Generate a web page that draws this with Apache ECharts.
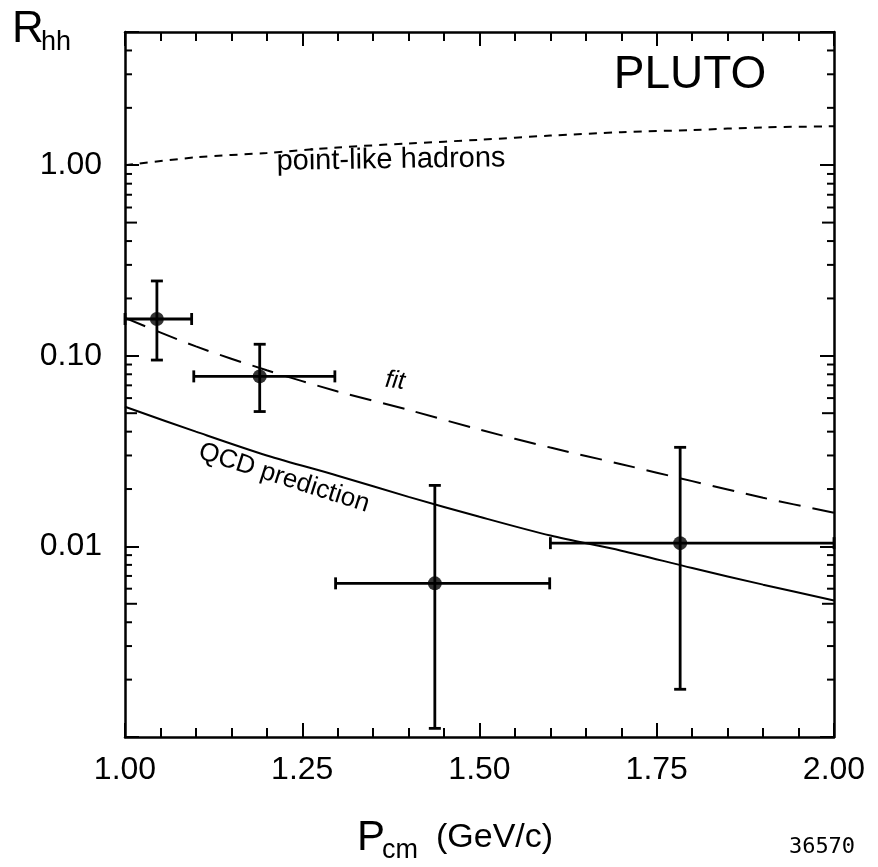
<!DOCTYPE html>
<html>
<head>
<meta charset="utf-8">
<script src="https://cdn.jsdelivr.net/npm/echarts@6/dist/echarts.min.js"></script>
<style>
html, body { margin: 0; padding: 0; background: #fff; }
#chart { width: 878px; height: 867px; }
</style>
</head>
<body>
<div id="chart"></div>
<script>
// curves, sampled along P_cm
var curveX = [1.0, 1.1, 1.2, 1.3, 1.4, 1.5, 1.6, 1.7, 1.8, 1.9, 2.0];
var pointLike = [1.00, 1.10, 1.16, 1.24, 1.30, 1.36, 1.43, 1.49, 1.53, 1.58, 1.60];
var fitCurve = [0.158, 0.112, 0.084, 0.065, 0.052, 0.041, 0.033, 0.027, 0.022, 0.018, 0.015];
var qcdCurve = [0.054, 0.040, 0.030, 0.0235, 0.0182, 0.0143, 0.0114, 0.0095, 0.0077, 0.0063, 0.0052];

// measured points
var ptX = [1.045, 1.19, 1.437, 1.783];
var ptY = [0.156, 0.078, 0.0064, 0.0104];
var ptXLow = [1.0, 1.097, 1.297, 1.60];
var ptXHigh = [1.094, 1.296, 1.599, 2.0];
var ptYLow = [0.095, 0.051, 0.00111, 0.00178];
var ptYHigh = [0.247, 0.115, 0.0209, 0.0331];

// axis labels
var yLabelValues = [1, 0.1, 0.01];
var yLabelTexts = ['1.00', '0.10', '0.01'];
var logMinorTicks = [0.002, 0.003, 0.004, 0.005, 0.006, 0.007, 0.008, 0.009,
	0.02, 0.03, 0.04, 0.05, 0.06, 0.07, 0.08, 0.09,
	0.2, 0.3, 0.4, 0.5, 0.6, 0.7, 0.8, 0.9,
	2, 3, 4];

var FONT = 'Liberation Sans';
var black = '#000';

function pair(xs, ys) {
	return xs.map(function (x, i) { return [x, ys[i]]; });
}

function yLabel(v) {
	for (var i = 0; i < yLabelValues.length; i++) {
		if (Math.abs(Math.log10(v) - Math.log10(yLabelValues[i])) < 1e-6) return yLabelTexts[i];
	}
	return '';
}

function renderTick(params, api) {
	var v = api.value(1);
	var l = api.coord([1, v]);
	var r = api.coord([2, v]);
	var lead = Math.round(v / Math.pow(10, Math.floor(Math.log10(v) + 1e-9)));
	var len = lead === 5 ? 12 : 7;
	var st = { stroke: black, lineWidth: 2 };
	return {
		type: 'group',
		children: [
			{ type: 'line', shape: { x1: l[0], y1: l[1], x2: l[0] + len, y2: l[1] }, style: st },
			{ type: 'line', shape: { x1: r[0], y1: r[1], x2: r[0] - len, y2: r[1] }, style: st }
		]
	};
}

function renderErr(params, api) {
	var x = api.value(0), y = api.value(1);
	var l = api.coord([api.value(2), y]);
	var r = api.coord([api.value(3), y]);
	var b = api.coord([x, api.value(4)]);
	var t = api.coord([x, api.value(5)]);
	var cap = 6;
	var st = { stroke: black, lineWidth: 2.8 };
	return {
		type: 'group',
		children: [
			{ type: 'line', shape: { x1: l[0], y1: l[1], x2: r[0], y2: r[1] }, style: st },
			{ type: 'line', shape: { x1: l[0], y1: l[1] - cap, x2: l[0], y2: l[1] + cap }, style: st },
			{ type: 'line', shape: { x1: r[0], y1: r[1] - cap, x2: r[0], y2: r[1] + cap }, style: st },
			{ type: 'line', shape: { x1: b[0], y1: b[1], x2: t[0], y2: t[1] }, style: st },
			{ type: 'line', shape: { x1: b[0] - cap, y1: b[1], x2: b[0] + cap, y2: b[1] }, style: st },
			{ type: 'line', shape: { x1: t[0] - cap, y1: t[1], x2: t[0] + cap, y2: t[1] }, style: st }
		]
	};
}

function xAxisCfg(pos, showLabel) {
	return {
		type: 'value',
		position: pos,
		min: 1,
		max: 2,
		interval: 0.25,
		axisLine: { onZero: false, lineStyle: { color: black, width: 2.5 } },
		axisTick: { show: true, inside: true, length: 14, lineStyle: { color: black, width: 2 } },
		minorTick: { show: true, splitNumber: 5, length: 9, lineStyle: { color: black, width: 2 } },
		splitLine: { show: false },
		minorSplitLine: { show: false },
		axisLabel: {
			show: showLabel,
			margin: 17,
			color: black,
			fontFamily: FONT,
			fontSize: 32,
			formatter: function (v) { return v.toFixed(2); }
		}
	};
}

function yAxisCfg(pos, showLabel) {
	return {
		type: 'log',
		logBase: 10,
		position: pos,
		min: 0.001,
		max: 5,
		axisLine: { onZero: false, lineStyle: { color: black, width: 2.5 } },
		axisTick: { show: true, inside: true, length: 14, lineStyle: { color: black, width: 2 } },
		splitLine: { show: false },
		axisLabel: {
			show: showLabel,
			margin: 23,
			color: black,
			fontFamily: FONT,
			fontSize: 32,
			showMinLabel: true,
			showMaxLabel: true,
			formatter: yLabel
		}
	};
}

function txt(text, x, y, size, extra) {
	var style = {
		text: text,
		fill: black,
		fontFamily: FONT,
		fontSize: size,
		align: 'left',
		textAlign: 'left',
		verticalAlign: 'middle',
		textVerticalAlign: 'middle'
	};
	var el = { type: 'text', x: x, y: y, style: style };
	if (extra) {
		if (extra.align) { style.align = extra.align; style.textAlign = extra.align; }
		if (extra.fontStyle) style.fontStyle = extra.fontStyle;
		if (extra.fontFamily) style.fontFamily = extra.fontFamily;
		if (extra.rotation) el.rotation = extra.rotation;
	}
	return el;
}

var myChart = echarts.init(document.getElementById('chart'), null, { renderer: 'canvas' });

var option = {
	animation: false,
	backgroundColor: '#fff',
	grid: { left: 125, right: 44, top: 32, bottom: 130, containLabel: false },
	xAxis: [xAxisCfg('bottom', true), xAxisCfg('top', false)],
	yAxis: [yAxisCfg('left', true), yAxisCfg('right', false)],
	graphic: [
		txt('R', 12, 30, 44),
		txt('hh', 41, 43, 27),
		txt('PLUTO', 690, 75, 46, { align: 'center' }),
		txt('point-like hadrons', 391, 160, 29, { align: 'center', rotation: 0.015 }),
		txt('fit', 395, 381, 25, { align: 'center', fontStyle: 'italic', rotation: -0.12 }),
		txt('QCD prediction', 284, 478, 26, { align: 'center', rotation: -0.31 }),
		txt('P', 357, 838, 42),
		txt('cm', 382, 851, 27),
		txt('(GeV/c)', 436, 838, 34),
		txt('36570', 822, 847, 22, { align: 'center', fontFamily: 'DejaVu Sans Mono' })
	],
	series: [
		{
			name: 'log ticks',
			type: 'custom',
			renderItem: renderTick,
			data: logMinorTicks.map(function (v) { return [1, v]; }),
			silent: true,
			z: 5
		},
		{
			name: 'point-like hadrons',
			type: 'line',
			data: pair(curveX, pointLike),
			smooth: 0.3,
			showSymbol: false,
			lineStyle: { color: black, width: 2, type: [8, 7] }
		},
		{
			name: 'fit',
			type: 'line',
			data: pair(curveX, fitCurve),
			smooth: 0.3,
			showSymbol: false,
			lineStyle: { color: black, width: 2, type: [22, 12] }
		},
		{
			name: 'QCD prediction',
			type: 'line',
			data: pair(curveX, qcdCurve),
			smooth: 0.3,
			showSymbol: false,
			lineStyle: { color: black, width: 2 }
		},
		{
			name: 'errors',
			type: 'custom',
			renderItem: renderErr,
			data: ptX.map(function (x, i) {
				return [x, ptY[i], ptXLow[i], ptXHigh[i], ptYLow[i], ptYHigh[i]];
			}),
			z: 6
		},
		{
			name: 'data',
			type: 'scatter',
			data: pair(ptX, ptY),
			symbol: 'circle',
			symbolSize: 14,
			itemStyle: { color: black },
			z: 7
		}
	]
};

myChart.setOption(option);
</script>
</body>
</html>
